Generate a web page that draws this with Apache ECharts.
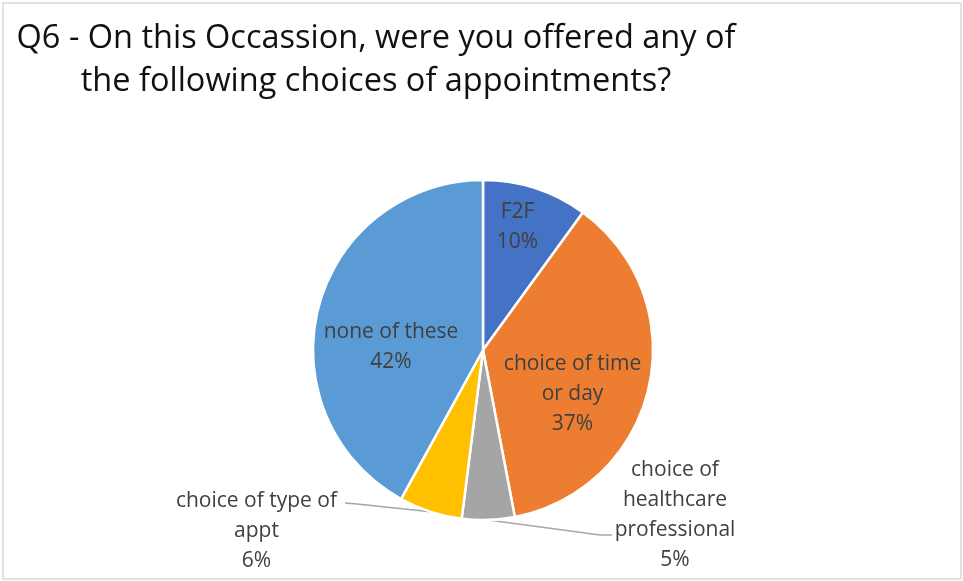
<!DOCTYPE html>
<html>
<head>
<meta charset="utf-8">
<script src="https://cdn.jsdelivr.net/npm/echarts@6/dist/echarts.min.js"></script>
<style>
  html, body { margin: 0; padding: 0; background: #fff; }
  #chart { width: 963px; height: 581px; }
</style>
</head>
<body>
<div id="chart"></div>
<script>
// Answer categories (line breaks follow the label wrapping)
const categories = [
  'F2F',
  'choice of time\nor day',
  'choice of\nhealthcare\nprofessional',
  'choice of type of\nappt',
  'none of these'
];
// Share of responses, percent
const shares = [10, 37, 5, 6, 42];
const colors = ['#4472C4', '#ED7D31', '#A5A5A5', '#FFC000', '#5B9BD5'];

const title = 'Q6 - On this Occassion, were you offered any of\nthe following choices of appointments?';

const FONT = '"Open Sans", "Noto Sans", sans-serif';
const CX = 483, CY = 350, R = 170;

// Label block centres, as offsets from the pie centre
const labelAnchor = [
  [34.5, -122.5],
  [89.5, 44],
  [192, 165],
  [-226.5, 181],
  [-92, -3]
];
const outsideLabel = [false, false, true, true, false];
// Leader-line elbow and end, as offsets from the pie centre (outside labels only)
const leaderBend = {
  2: [[117, 185], [129, 185]],
  3: [[-126, 154], [-138, 153]]
};

const chart = echarts.init(document.getElementById('chart'));

chart.setOption({
  animation: false,
  backgroundColor: '#fff',
  title: {
    text: title,
    left: 371,
    top: 12,
    textAlign: 'center',
    textStyle: {
      fontFamily: FONT,
      fontSize: 32.5,
      fontWeight: 'normal',
      color: '#111',
      lineHeight: 43
    }
  },
  graphic: [{
    type: 'rect',
    shape: { x: 3, y: 3, width: 958, height: 576 },
    style: { fill: 'none', stroke: '#d9d9d9', lineWidth: 1.5 },
    silent: true,
    z: -1
  }],
  series: [{
    type: 'pie',
    center: [CX, CY],
    radius: R,
    startAngle: 90,
    clockwise: true,
    avoidLabelOverlap: false,
    itemStyle: { borderColor: '#fff', borderWidth: 2.5 },
    label: {
      formatter: '{b}\n{d}%',
      fontFamily: FONT,
      fontSize: 21,
      lineHeight: 30,
      color: '#404040',
      align: 'center'
    },
    labelLine: {
      lineStyle: { color: '#a6a6a6', width: 1.5 },
      length: 10,
      length2: 10
    },
    labelLayout: function (params) {
      const i = params.dataIndex;
      const a = labelAnchor[i];
      const out = {
        x: CX + a[0],
        y: CY + a[1],
        align: 'center',
        verticalAlign: 'middle'
      };
      const bend = leaderBend[i];
      if (bend && params.labelLinePoints) {
        const start = params.labelLinePoints[0];
        out.labelLinePoints = [
          [start[0], start[1]],
          [CX + bend[0][0], CY + bend[0][1]],
          [CX + bend[1][0], CY + bend[1][1]]
        ];
      }
      return out;
    },
    data: categories.map(function (name, i) {
      const outside = outsideLabel[i];
      return {
        name: name,
        value: shares[i],
        itemStyle: { color: colors[i] },
        label: { position: outside ? 'outside' : 'inside' },
        labelLine: { show: outside }
      };
    })
  }]
});
</script>
</body>
</html>
